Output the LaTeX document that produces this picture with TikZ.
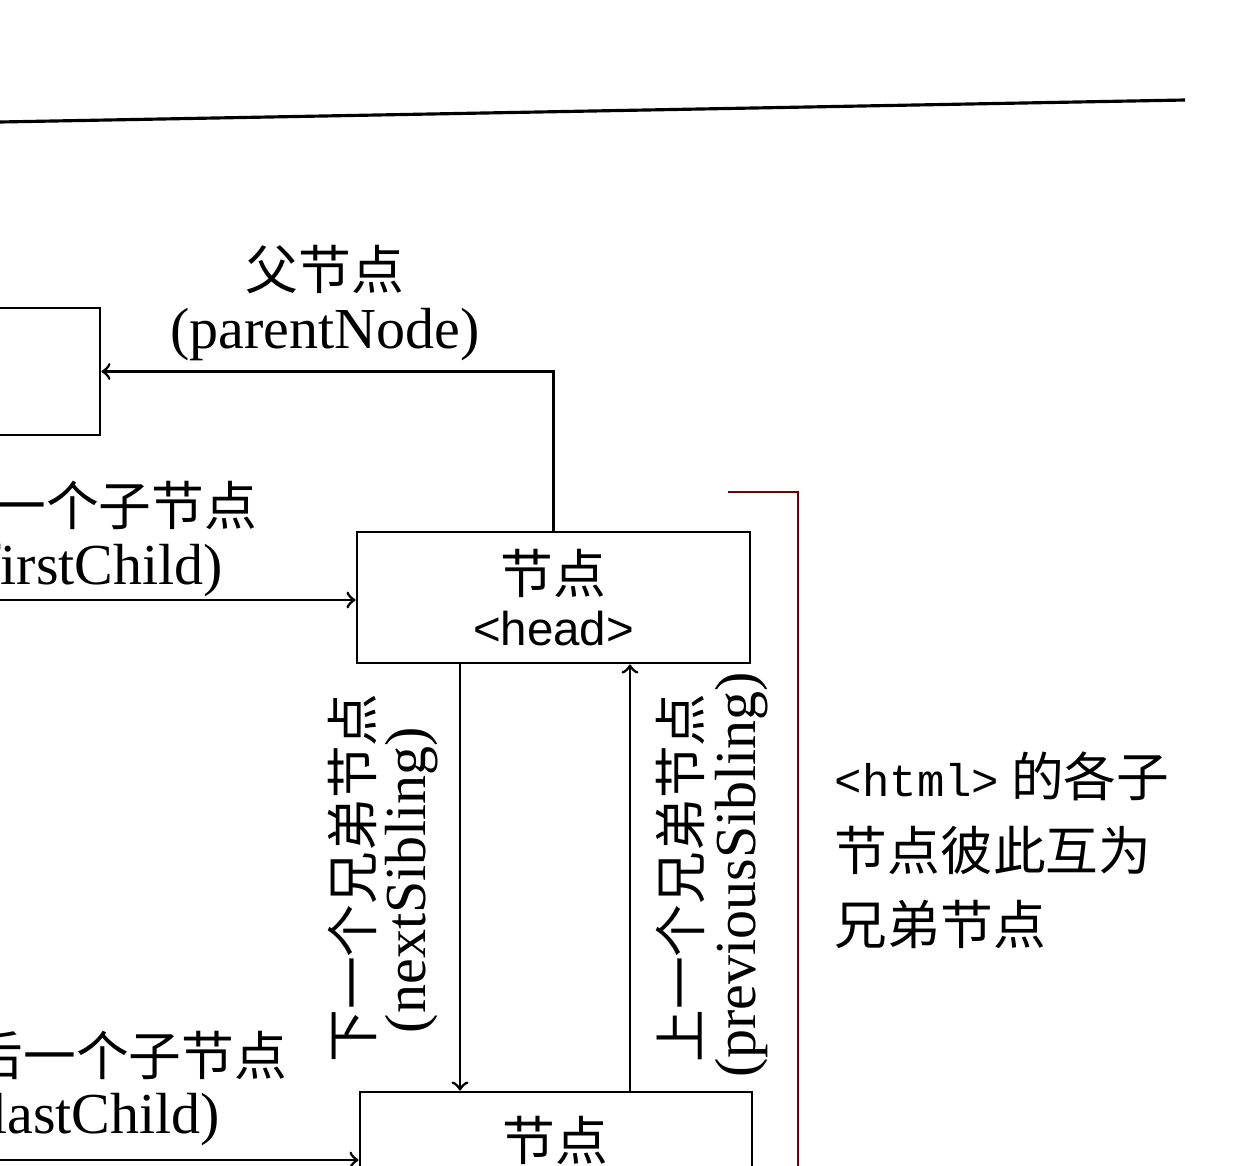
\documentclass[tikz,border=0pt]{standalone}
\usepackage{fontspec}
\setmainfont{Liberation Serif}
\setsansfont{Liberation Sans}
\setmonofont{Liberation Mono}
\newfontfamily\cjk{Noto Sans CJK SC}
\usetikzlibrary{positioning}

\begin{document}
\begin{tikzpicture}[thick]
        %
        % `nodebox' is used for the element boxes, `cn' and `en' for labels.
        \tikzstyle{nodebox} = [draw,minimum width=3.93cm,minimum height=1.31cm,align=center,inner sep=0pt]
        \tikzstyle{cn} = [font=\cjk\fontsize{15}{21}\selectfont,inner sep=1pt]
        \tikzstyle{en} = [font=\fontsize{16.5}{20}\selectfont,inner sep=1pt]
        \useasboundingbox (0,0) rectangle (12.58,-11.66);
        \clip (0,0) rectangle (12.58,-11.66);
        %
        % Top rule
        \coordinate (rulea) at (0,-1.22);
        \coordinate (ruleb) at (11.85,-1.00);
        \draw[line width=0.9pt] (rulea) -- (ruleb);
        %
        % Boxes
        \node[nodebox,minimum width=2cm,minimum height=1.27cm] (root) at (0,-3.715) {};
        \node[nodebox] (head) at (5.535,-5.975)
            {{\cjk\fontsize{15}{18}\selectfont 节点}\\[3pt]{\sffamily\fontsize{13.5}{16}\selectfont <head>}};
        \node[nodebox,minimum width=3.92cm,minimum height=1.36cm] (body) at (5.56,-11.6) {};
        \node[cn] (bodytxt) at (5.55,-11.4) {节点};
        %
        % Parent link
        \node[cn] (parcn) at (3.25,-2.70) {父节点};
        \node[en] (paren) at (3.25,-3.35) {(parentNode)};
        \draw[->] (head.north) |- (root.east);
        %
        % First child
        \node[cn,anchor=east] (fccn) at (2.62,-5.05) {第一个子节点};
        \node[en,anchor=east] (fcen) at (2.28,-5.70) {(firstChild)};
        \coordinate (fcstart) at (0,-6.0);
        \draw[->] (fcstart) -- (fcstart -| head.west);
        %
        % Last child
        \node[cn,anchor=east] (lccn) at (2.92,-10.55) {最后一个子节点};
        \node[en,anchor=east] (lcen) at (2.25,-11.20) {(lastChild)};
        \coordinate (lcstart) at (0,-11.6);
        \draw[->] (lcstart) -- (lcstart -| body.west);
        %
        % Siblings
        \coordinate (nsx) at (4.60,0);
        \coordinate (psx) at (6.30,0);
        \draw[->] (head.south -| nsx) -- (body.north -| nsx);
        \draw[->] (body.north -| psx) -- (head.south -| psx);
        \node[cn,rotate=90] (nscn) at (3.52,-8.78) {下一个兄弟节点};
        \node[en,rotate=90] (nsen) at (4.12,-8.80) {(nextSibling)};
        \node[cn,rotate=90] (pscn) at (6.80,-8.78) {上一个兄弟节点};
        \node[en,rotate=90] (psen) at (7.42,-8.75) {(previousSibling)};
        %
        % Bracket and note
        \coordinate (brtop) at (7.28,-4.92);
        \coordinate (brcorner) at (7.98,-4.92);
        \coordinate (brbottom) at (7.98,-11.8);
        \draw[red!45!black] (brtop) -- (brcorner) -- (brbottom);
        \node[cn,anchor=west,align=left] (note) at (8.30,-8.50)
            {{\ttfamily\fontsize{13}{21}\selectfont <html>} 的各子\\节点彼此互为\\兄弟节点};
        %
\end{tikzpicture}
\end{document}
